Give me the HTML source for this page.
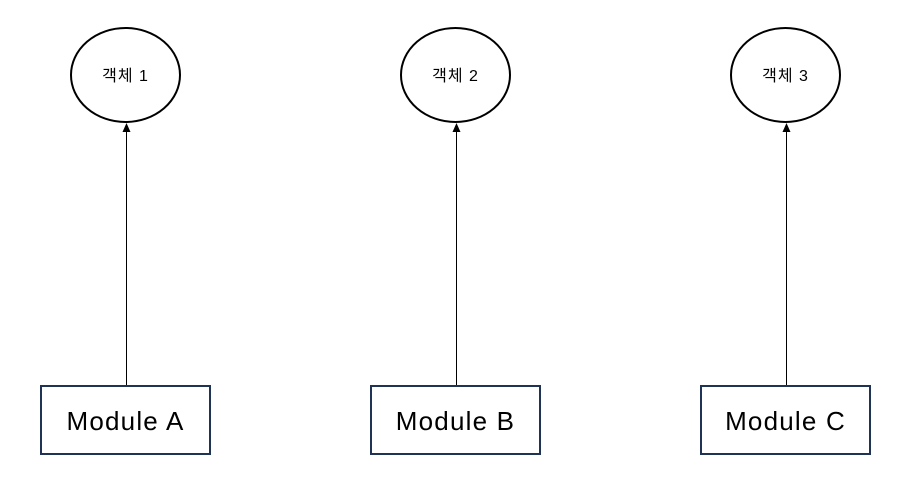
<!DOCTYPE html>
<html><head><meta charset="utf-8"><style>
html,body{margin:0;padding:0;background:#fff;width:915px;height:483px;overflow:hidden}
</style></head><body>
<svg width="915" height="483" xmlns="http://www.w3.org/2000/svg">
<g font-family="'Liberation Sans','Noto Sans CJK KR',sans-serif">
<g>
<ellipse cx="125.5" cy="75" rx="54.5" ry="47" fill="#fff" stroke="#000" stroke-width="2"/>
<text x="125.5" y="81" text-anchor="middle" font-size="16" letter-spacing="1" fill="#000">객체 1</text>
<line x1="126.5" y1="131" x2="126.5" y2="386" stroke="#000" stroke-width="1"/>
<polygon points="126.5,123 122.5,132 130.5,132" fill="#000"/>
<rect x="41" y="386" width="169" height="68" fill="#fff" stroke="#1f3354" stroke-width="2"/>
<text x="125.5" y="430" text-anchor="middle" font-size="26" letter-spacing="1.2" fill="#000">Module A</text>
</g>
<g transform="translate(330,0)">
<ellipse cx="125.5" cy="75" rx="54.5" ry="47" fill="#fff" stroke="#000" stroke-width="2"/>
<text x="125.5" y="81" text-anchor="middle" font-size="16" letter-spacing="1" fill="#000">객체 2</text>
<line x1="126.5" y1="131" x2="126.5" y2="386" stroke="#000" stroke-width="1"/>
<polygon points="126.5,123 122.5,132 130.5,132" fill="#000"/>
<rect x="41" y="386" width="169" height="68" fill="#fff" stroke="#1f3354" stroke-width="2"/>
<text x="125.5" y="430" text-anchor="middle" font-size="26" letter-spacing="1.2" fill="#000">Module B</text>
</g>
<g transform="translate(660,0)">
<ellipse cx="125.5" cy="75" rx="54.5" ry="47" fill="#fff" stroke="#000" stroke-width="2"/>
<text x="125.5" y="81" text-anchor="middle" font-size="16" letter-spacing="1" fill="#000">객체 3</text>
<line x1="126.5" y1="131" x2="126.5" y2="386" stroke="#000" stroke-width="1"/>
<polygon points="126.5,123 122.5,132 130.5,132" fill="#000"/>
<rect x="41" y="386" width="169" height="68" fill="#fff" stroke="#1f3354" stroke-width="2"/>
<text x="125.5" y="430" text-anchor="middle" font-size="26" letter-spacing="1.2" fill="#000">Module C</text>
</g>
</g>
</svg>
</body></html>
